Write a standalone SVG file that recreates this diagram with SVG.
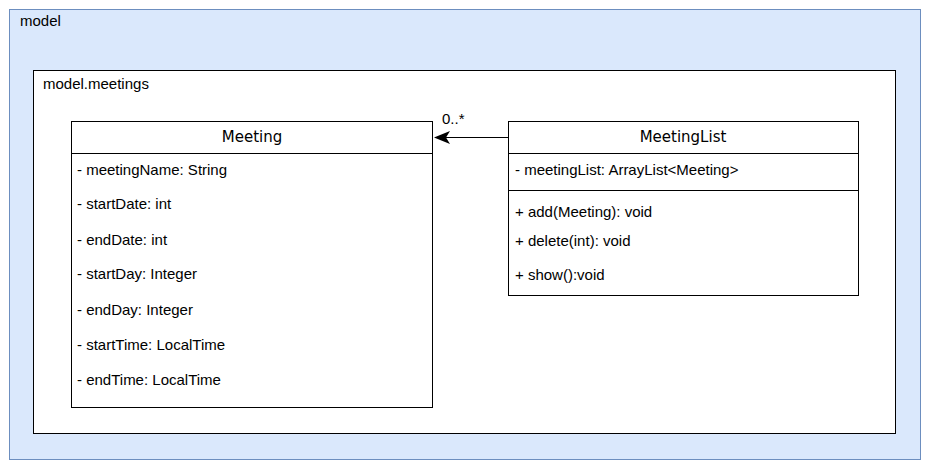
<svg xmlns="http://www.w3.org/2000/svg" width="931" height="469" viewBox="0 0 931 469">
<defs>
<style>
text{font-family:"Liberation Sans",Arial,sans-serif;font-size:15px;fill:#000}
.t{text-anchor:middle;font-family:"DejaVu Sans",Verdana,sans-serif}
.box{fill:#fff;stroke:#000;stroke-width:1}
.ln{stroke:#000;stroke-width:1;fill:none}
</style>
<marker id="arr" viewBox="0 0 16 13" refX="15" refY="6.5" markerWidth="16" markerHeight="13" markerUnits="userSpaceOnUse" orient="auto">
<path d="M0,0 L16,6.5 L0,13 L4,6.5 Z" fill="#000"/>
</marker>
</defs>
<g id="model">
<rect x="9.5" y="9.5" width="911" height="450" fill="#dae8fc" stroke="#6c8ebf" stroke-width="1"/>
<text x="20" y="26">model</text>
</g>
<g id="model-meetings">
<rect class="box" x="33.5" y="70.5" width="862" height="363"/>
<text x="43" y="89">model.meetings</text>
</g>
<g id="Meeting">
<rect class="box" x="71.5" y="121.5" width="361" height="286"/>
<line class="ln" x1="71.5" y1="153.5" x2="432.5" y2="153.5"/>
<text class="t" x="252" y="142">Meeting</text>
<text x="77" y="175">- meetingName: String</text>
<text x="77" y="209">- startDate: int</text>
<text x="77" y="245">- endDate: int</text>
<text x="77" y="279">- startDay: Integer</text>
<text x="77" y="315">- endDay: Integer</text>
<text x="77" y="350">- startTime: LocalTime</text>
<text x="77" y="385">- endTime: LocalTime</text>
</g>
<g id="MeetingList">
<rect class="box" x="508.5" y="121.5" width="350" height="174"/>
<line class="ln" x1="508.5" y1="153.5" x2="858.5" y2="153.5"/>
<line class="ln" x1="508.5" y1="190.5" x2="858.5" y2="190.5"/>
<text class="t" x="683" y="142">MeetingList</text>
<text x="515" y="175">- meetingList: ArrayList&lt;Meeting&gt;</text>
<text x="515" y="217">+ add(Meeting): void</text>
<text x="515" y="246">+ delete(int): void</text>
<text x="515" y="280">+ show():void</text>
</g>
<g id="connectors">
<line class="ln" x1="508" y1="137.5" x2="435" y2="137.5" marker-end="url(#arr)"/>
<text x="442" y="124">0..*</text>
</g>
</svg>
